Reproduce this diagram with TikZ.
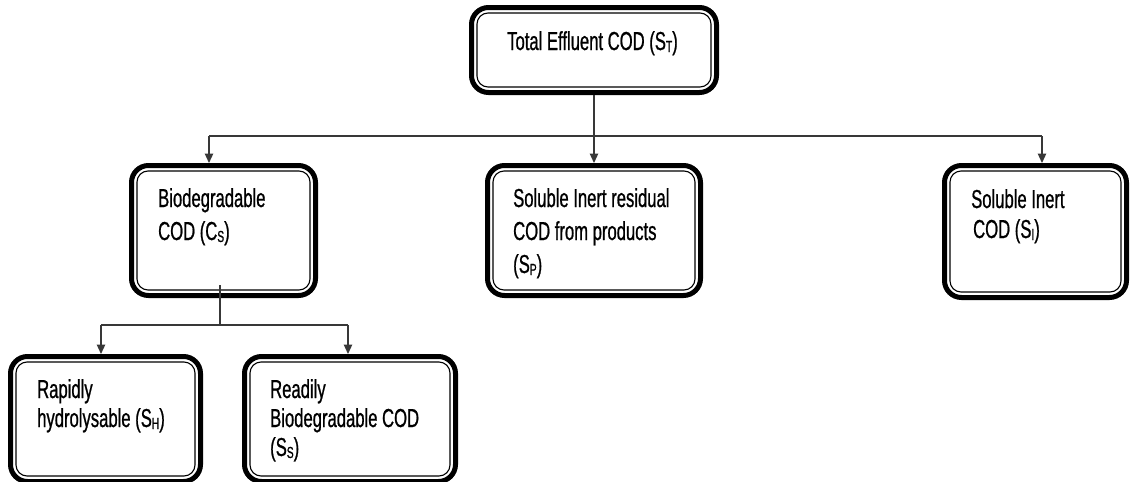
\documentclass[tikz,border=0pt]{standalone}
\usepackage{fontspec}
\setmainfont[FakeStretch=0.64,FakeBold=0.8]{Liberation Sans}
\usetikzlibrary{arrows.meta}
\newcommand\sbs[1]{\raisebox{-2pt}{\fontsize{16}{16}\selectfont #1}}
\begin{document}
\begin{tikzpicture}[x=1pt,y=-1pt,
  box/.style={draw, line width=5pt, rounded corners=17pt, inner sep=0pt, outer sep=2.5pt},
  innerline/.style={draw, line width=1.1pt, rounded corners=11pt},
  conn/.style={draw=black!78, line width=1.2pt},
  arr/.style={conn, -{Triangle[width=8.5pt,length=9.5pt]}},
  txt/.style={anchor=base west, align=left, inner sep=0pt, text=black}]
\useasboundingbox (0,0) rectangle (1133,482);
% boxes
\node[box, minimum width=245pt, minimum height=85pt] (top) at (594,50) {};
\node[box, minimum width=184pt, minimum height=130pt] (bio) at (223.5,230.5) {};
\node[box, minimum width=213pt, minimum height=130pt] (mid) at (594,230.5) {};
\node[box, minimum width=182pt, minimum height=132pt] (rgt) at (1035.5,231.5) {};
\node[box, minimum width=190pt, minimum height=125pt] (rap) at (105.5,419) {};
\node[box, minimum width=211pt, minimum height=125pt] (rea) at (350,419) {};
\foreach \n in {top,bio,mid,rgt,rap,rea}
  \draw[innerline] ([shift={(8pt,-8pt)}]\n.north west) rectangle ([shift={(-8pt,8pt)}]\n.south east);
% texts (anchor is the baseline of the last line)
\node[txt, font=\fontsize{26}{33}\selectfont] (ttop) at (507,50) {Total Effluent COD (S\sbs{T})};
\node[txt, font=\fontsize{26}{33}\selectfont] (tbio) at (158,240) {Biodegradable\\COD (C\sbs{S})};
\node[txt, font=\fontsize{26}{33}\selectfont] (tmid) at (513,273) {Soluble Inert residual\\COD from products\\(S\sbs{P})};
\node[txt, font=\fontsize{26}{30}\selectfont] (trgt) at (971,238) {Soluble Inert\\\hspace{2pt}COD (S\sbs{I})};
\node[txt, font=\fontsize{26}{29}\selectfont] (trap) at (37,427) {Rapidly\\hydrolysable (S\sbs{H})};
\node[txt, font=\fontsize{26}{29}\selectfont] (trea) at (270,456) {Readily\\Biodegradable COD\\(S\sbs{S})};
% connectors
\coordinate (j1) at (594,136);
\coordinate (jb) at (209,136);
\coordinate (jr) at (1042,136);
\draw[conn] (top.south) -- (j1);
\draw[conn] (jb) -- (jr);
\draw[arr] (j1) -- (mid.north);
\draw[arr] (jb) -- (jb |- bio.north);
\draw[arr] (jr) -- (jr |- rgt.north);
\coordinate (b0) at (220,285);
\coordinate (j2) at (220,325);
\coordinate (ja) at (101,325);
\coordinate (jc) at (348,325);
\draw[conn] (b0) -- (j2);
\draw[conn] (ja) -- (jc);
\draw[arr] (ja) -- (ja |- rap.north);
\draw[arr] (jc) -- (jc |- rea.north);
\end{tikzpicture}
\end{document}
